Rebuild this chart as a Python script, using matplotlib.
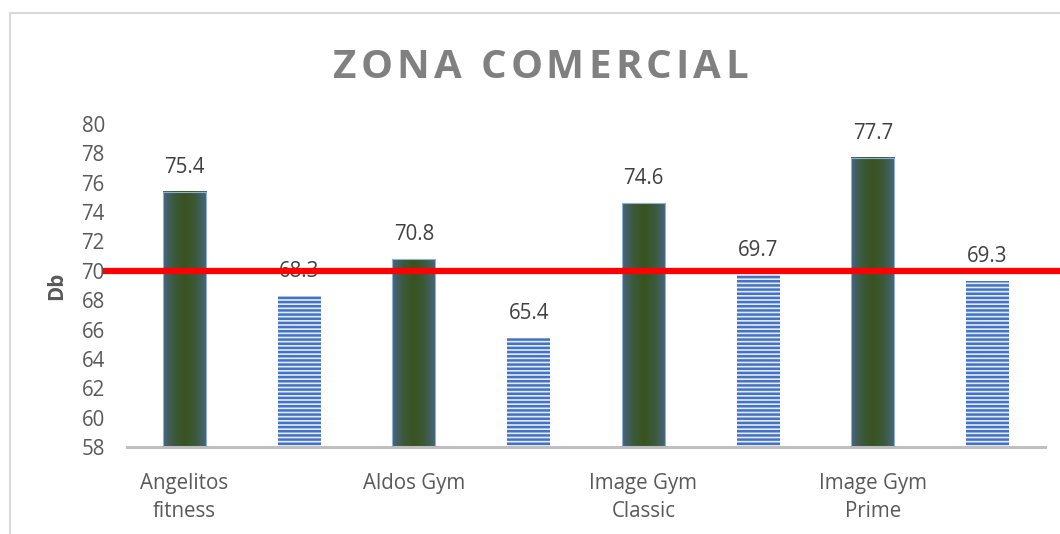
import numpy as np
import matplotlib
matplotlib.use("Agg")
import matplotlib.pyplot as plt
from matplotlib.colors import LinearSegmentedColormap
from matplotlib.lines import Line2D
from matplotlib.transforms import blended_transform_factory

# data
labels = ["Angelitos\nfitness", "", "Aldos Gym", "", "Image Gym\nClassic", "",
          "Image Gym\nPrime", ""]
values = [75.4, 68.3, 70.8, 65.4, 74.6, 69.7, 77.7, 69.3]
kinds = ["green", "blue", "green", "blue", "green", "blue", "green", "blue"]
limit_db = 70
y_ticks = list(range(58, 81, 2))
title = "ZONA COMERCIAL"

plt.rcParams["font.family"] = ["Open Sans", "DejaVu Sans"]
plt.rcParams["hatch.linewidth"] = 1.8

TEXT = "#595959"
W, H = 1060, 534
fig = plt.figure(figsize=(W / 100, H / 100), dpi=100)
ax = fig.add_axes([127 / W, 87 / H, 918 / W, 323 / H])

green_cmap = LinearSegmentedColormap.from_list(
    "g", ["#46657f", "#3c5a3a", "#39531f", "#3c5a3a", "#46657f"])
grad = np.linspace(0, 1, 64).reshape(1, -1)
bw = 0.375

x = np.arange(len(values))
for xi, v, k in zip(x, values, kinds):
    if k == "green":
        ax.imshow(grad, cmap=green_cmap, aspect="auto",
                  extent=[xi - bw / 2, xi + bw / 2, 58, v], zorder=2)
        ax.bar(xi, v - 58, bottom=58, width=bw, facecolor="none",
               edgecolor="#8fb0d8", linewidth=0.8, zorder=3)
    else:
        ax.bar(xi, v - 58, bottom=58, width=bw, facecolor="#e3ebf7",
               edgecolor="#4472c4", hatch="----", linewidth=0, zorder=2)
    ax.annotate(f"{v:.1f}", (xi, v), xytext=(0, 10), textcoords="offset points",
                ha="center", va="bottom", fontsize=14.8, color="#404040", zorder=5)

ax.set_xlim(-0.5, len(values) - 0.5)
ax.set_ylim(58, 80)
ax.set_yticks(y_ticks)
ax.set_xticks(x)
ax.set_xticklabels(labels, linespacing=1.4)
ax.tick_params(axis="both", length=0, labelsize=14.8, labelcolor=TEXT)
ax.tick_params(axis="x", pad=19)
ax.tick_params(axis="y", pad=16)
for s in ["left", "right", "top"]:
    ax.spines[s].set_visible(False)
ax.spines["bottom"].set_color("#bfbfbf")
ax.spines["bottom"].set_linewidth(2.2)
ax.set_ylabel("Db", fontsize=14.8, fontweight="bold", color=TEXT, labelpad=10)

# red limit line, runs from the tick labels to the right edge of the figure
tr = blended_transform_factory(fig.transFigure, ax.transData)
ax.plot([106 / W, 1.0], [limit_db, limit_db], color="#ff0000", linewidth=4.5,
        transform=tr, clip_on=False, zorder=6)

# title with letter spacing: place each character by hand
renderer = fig.canvas.get_renderer()
tkw = dict(fontsize=29, fontweight="bold", color="#808080", va="center", ha="left")


def text_width(s):
    t = fig.text(0, 0, s + "|", **tkw)
    w = t.get_window_extent(renderer).width
    t.remove()
    t = fig.text(0, 0, "|", **tkw)
    w -= t.get_window_extent(renderer).width
    t.remove()
    return w


target = 415
natural = text_width(title)
extra = (target - natural) / (len(title) - 1)
x0 = 333
for i, ch in enumerate(title):
    if ch == " ":
        continue
    px = x0 + text_width(title[:i]) + i * extra
    fig.text(px / W, 1 - 67 / H, ch, **tkw)

# chart frame
fig.add_artist(Line2D([10 / W, 10 / W], [0, 1 - 13 / H],
                      transform=fig.transFigure, color="#d9d9d9", linewidth=1.5))
fig.add_artist(Line2D([10 / W, 1], [1 - 13 / H, 1 - 13 / H],
                      transform=fig.transFigure, color="#d9d9d9", linewidth=1.5))

fig.savefig("out.png", dpi=100, facecolor="white")
